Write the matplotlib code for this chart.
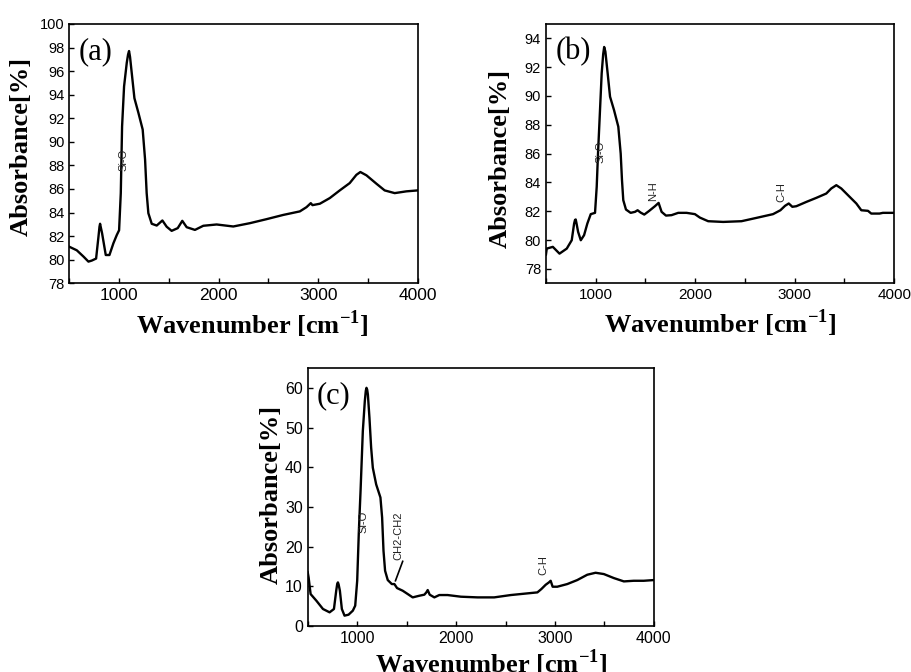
import matplotlib
matplotlib.use('Agg')
import matplotlib.pyplot as plt
from matplotlib import ticker

plt.rcParams['font.family'] = ['Liberation Sans', 'DejaVu Sans']
plt.rcParams['mathtext.fontset'] = 'custom'
plt.rcParams['mathtext.bf'] = 'Liberation Serif:bold'
plt.rcParams['mathtext.rm'] = 'Liberation Serif'

# spectrum (a)
wn_a = [500, 575, 642, 692, 726, 769, 793, 803, 809, 815, 829, 866, 903, 943, 977,
        1000, 1017, 1030, 1050, 1077, 1090, 1100, 1110, 1120, 1154, 1194, 1237,
        1261, 1277, 1294, 1328, 1378, 1435, 1478, 1528, 1589, 1635, 1679, 1762,
        1846, 1980, 2147, 2314, 2481, 2649, 2816, 2883, 2926, 2943, 3017, 3117,
        3217, 3317, 3384, 3424, 3485, 3585, 3668, 3769, 3886, 4000]
abs_a = [81.1, 80.8, 80.27, 79.84, 79.93, 80.1, 81.97, 82.8, 83.05, 82.8, 82.25,
         80.4, 80.4, 81.4, 82.1, 82.5, 85.65, 91.3, 94.7, 96.7, 97.4, 97.7, 97.2,
         96.4, 93.7, 92.46, 91.04, 88.5, 85.65, 83.95, 83.05, 82.9, 83.33, 82.8,
         82.45, 82.68, 83.3, 82.76, 82.53, 82.88, 82.99, 82.82, 83.1, 83.44, 83.8,
         84.1, 84.46, 84.8, 84.63, 84.75, 85.23, 85.88, 86.5, 87.2, 87.44, 87.16,
         86.45, 85.88, 85.65, 85.8, 85.88]

# spectrum (b)
wn_b = [500, 508, 569, 636, 709, 759, 783, 792, 799, 806, 823, 850, 883, 916, 950,
        993, 1010, 1023, 1037, 1060, 1075, 1085, 1097, 1120, 1144, 1184, 1227,
        1251, 1264, 1277, 1304, 1351, 1395, 1421, 1451, 1488, 1538, 1595, 1632,
        1662, 1706, 1762, 1829, 1913, 1997, 2047, 2130, 2281, 2465, 2615, 2782,
        2856, 2903, 2940, 2976, 3016, 3117, 3217, 3317, 3367, 3418, 3468, 3552,
        3619, 3669, 3736, 3769, 3852, 3886, 4000]
abs_b = [79.0, 79.41, 79.53, 79.06, 79.41, 79.99, 81.15, 81.4, 81.43, 81.2, 80.57,
         79.99, 80.34, 81.15, 81.8, 81.89, 83.7, 86.0, 88.1, 91.57, 92.9, 93.4,
         93.08, 91.57, 89.95, 89.02, 87.87, 86.0, 84.16, 82.77, 82.12, 81.89, 81.96,
         82.07, 81.91, 81.77, 82.03, 82.35, 82.58, 81.96, 81.7, 81.73, 81.89, 81.89,
         81.8, 81.56, 81.31, 81.26, 81.31, 81.54, 81.8, 82.07, 82.38, 82.54, 82.31,
         82.35, 82.65, 82.93, 83.23, 83.58, 83.81, 83.58, 83.0, 82.54, 82.07,
         82.03, 81.84, 81.84, 81.89, 81.89]

# spectrum (c)
wn_c = [500, 509, 529, 587, 654, 721, 765, 788, 798, 805, 812, 825, 845, 872, 913,
        956, 980, 1000, 1017, 1034, 1057, 1077, 1087, 1094, 1101, 1108, 1124, 1141,
        1158, 1192, 1235, 1252, 1266, 1282, 1309, 1350, 1376, 1403, 1460, 1511,
        1561, 1629, 1679, 1699, 1713, 1733, 1780, 1830, 1914, 2049, 2217, 2385,
        2553, 2721, 2822, 2862, 2906, 2939, 2956, 2976, 3023, 3124, 3225, 3326,
        3410, 3494, 3595, 3696, 3796, 3897, 4000]
abs_c = [13.5, 12.2, 8.05, 6.38, 4.28, 3.44, 4.28, 8.89, 10.6, 10.99, 10.5, 8.89,
         4.28, 2.6, 2.85, 3.86, 5.12, 11.4, 24.0, 34.06, 49.16, 56.7, 59.3, 60.07,
         59.6, 58.4, 52.5, 45.0, 39.9, 35.7, 32.4, 27.35, 18.96, 13.93, 11.58,
         10.57, 10.57, 9.56, 8.89, 8.05, 7.21, 7.63, 7.89, 8.47, 9.06, 7.89, 7.21,
         7.8, 7.8, 7.38, 7.21, 7.21, 7.8, 8.22, 8.47, 9.31, 10.4, 11.0, 11.4, 9.9,
         9.9, 10.57, 11.58, 12.92, 13.42, 13.09, 12.08, 11.24, 11.4, 11.4, 11.58]

# band labels: (text, wavenumber, absorbance)
bands_a = [('Si-O', 1043, 88.5)]
bands_b = [('Si-O', 1047, 86.1), ('N-H', 1575, 83.4), ('C-H', 2869, 83.35)]
bands_c = [('Si-O', 1062, 26.2), ('CH2-CH2', 1415, 22.7), ('C-H', 2880, 15.4)]

panels = [
    # rect, data, ylim, ystep, tag, bands, xtick size, ytick size, ylabel pos, xlabel pos
    ([0.0761, 0.5784, 0.3824, 0.386], wn_a, abs_a, (78, 100), 2, '(a)', bands_a,
     12.5, 10.5, (-0.104, 0.526), (0.524, -0.095)),
    ([0.5993, 0.5784, 0.3823, 0.386], wn_b, abs_b, (77, 95), 2, '(b)', bands_b,
     11, 10.5, (-0.098, 0.483), (0.5, -0.0915)),
    ([0.3378, 0.0685, 0.3800, 0.3835], wn_c, abs_c, (0, 65), 10, '(c)', bands_c,
     11.5, 11.5, (-0.072, 0.512), (0.531, -0.085)),
]

fig = plt.figure(figsize=(9.11, 6.72), dpi=100)

for rect, wn, ab, ylim, ystep, tag, bands, xs, ys, ylpos, xlpos in panels:
    ax = fig.add_axes(rect)
    ax.plot(wn, ab, color='black', linewidth=1.7, solid_joinstyle='round')
    ax.set_xlim(500, 4000)
    ax.set_ylim(*ylim)
    ax.xaxis.set_major_locator(ticker.MultipleLocator(1000))
    ax.xaxis.set_minor_locator(ticker.MultipleLocator(500))
    ax.yaxis.set_major_locator(ticker.MultipleLocator(ystep))
    ax.tick_params(which='both', direction='in', length=3.5, width=1, color='black')
    ax.tick_params(axis='x', labelsize=xs)
    ax.tick_params(axis='y', labelsize=ys)
    for sp in ax.spines.values():
        sp.set_linewidth(1.2)

    ax.set_xlabel('Wavenumber [cm$^{\\mathbf{-1}}$]', family='Liberation Serif',
                  fontweight='bold', fontsize=19, va='top')
    ax.xaxis.set_label_coords(*xlpos)
    ax.set_ylabel('Absorbance[%]', family='Liberation Serif',
                  fontweight='bold', fontsize=19)
    ax.yaxis.set_label_coords(*ylpos)

    ax.text(0.027, 0.892, tag, transform=ax.transAxes, family='Liberation Serif',
            fontsize=22, ha='left', va='center')

    for name, x, y in bands:
        ax.text(x, y, name, rotation=90, fontsize=8, color='#222222',
                ha='center', va='center')

# leader line from the CH2-CH2 label to its shoulder
fig.axes[2].plot([1460, 1387], [16.3, 11.4], color='black', linewidth=1.2)

fig.savefig('out.png', dpi=100)
